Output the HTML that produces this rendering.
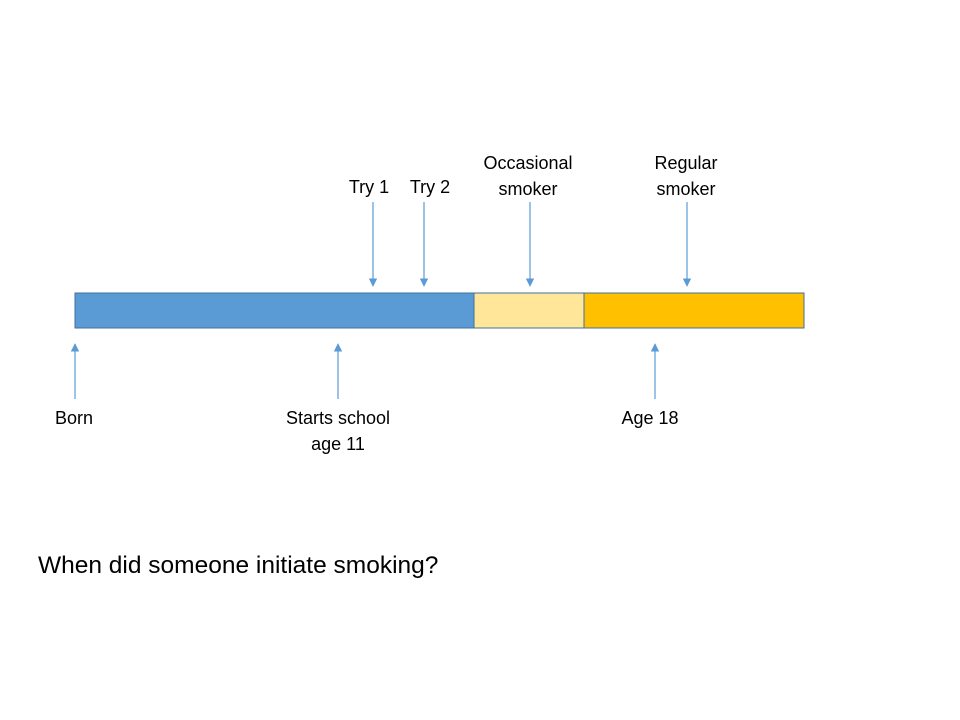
<!DOCTYPE html>
<html><head><meta charset="utf-8"><style>
html,body{margin:0;padding:0;background:#fff;}
svg{display:block;font-family:"Liberation Sans",sans-serif;}
</style></head><body>
<svg id="chart" width="960" height="720" viewBox="0 0 960 720" xmlns="http://www.w3.org/2000/svg">
<defs>
<marker id="ah" viewBox="0 0 10 10" refX="9" refY="5" markerWidth="7" markerHeight="7" orient="auto-start-reverse">
<path d="M0,0 L10,5 L0,10 z" fill="#5b9bd5"/>
</marker>
</defs>
<text x="38" y="573" font-size="24.5" fill="#000">When did someone initiate smoking?</text>
</svg>
<script>
// timeline data (units on the timeline axis)
const segStarts = [0, 399, 509];
const segEnds = [399, 509, 729];
const segColors = ['#5b9bd5', '#ffe699', '#ffc000'];
const segNames = ['childhood-segment', 'occasional-segment', 'regular-segment'];
const topEvents = [298, 349, 455, 612];
const topLabels = [['Try 1'], ['Try 2'], ['Occasional', 'smoker'], ['Regular', 'smoker']];
const bottomEvents = [0, 263, 580];
const bottomLabels = [['Born'], ['Starts school', 'age 11'], ['Age 18']];

const svg = document.getElementById('chart');
const NS = 'http://www.w3.org/2000/svg';
const x0 = 75;
const xs = v => x0 + v;
const barTop = 293, barH = 35;
const topDx = [-4, 6, -2, -1];
const bottomDx = [-1, 0, -5];

function mk(tag, attrs) {
  const e = document.createElementNS(NS, tag);
  for (const k in attrs) e.setAttribute(k, attrs[k]);
  svg.appendChild(e);
  return e;
}

segStarts.forEach((s, i) => {
  const r = mk('rect', {x: xs(s), y: barTop, width: xs(segEnds[i]) - xs(s), height: barH, fill: segColors[i], stroke: '#41719c', 'stroke-width': 1});
  
  
});

topEvents.forEach((v, i) => {
  const x = xs(v);
  const l = mk('line', {x1: x, y1: 202, x2: x, y2: 286, stroke: '#5b9bd5', 'stroke-width': 1.2, 'marker-end': 'url(#ah)'});
  
  
  const lines = topLabels[i];
  lines.forEach((t, j) => {
    const y = lines.length === 1 ? 193 : 169 + j * 26;
    const tx = mk('text', {x: x + topDx[i], y: y, 'font-size': 18, 'text-anchor': 'middle', fill: '#000'});
    tx.textContent = t;
    
    
  });
});

bottomEvents.forEach((v, i) => {
  const x = xs(v);
  const l = mk('line', {x1: x, y1: 399, x2: x, y2: 344, stroke: '#5b9bd5', 'stroke-width': 1.2, 'marker-end': 'url(#ah)'});
  
  
  bottomLabels[i].forEach((t, j) => {
    const tx = mk('text', {x: x + bottomDx[i], y: 424 + j * 26, 'font-size': 18, 'text-anchor': 'middle', fill: '#000'});
    tx.textContent = t;
    
    
  });
});
</script>
</body></html>
